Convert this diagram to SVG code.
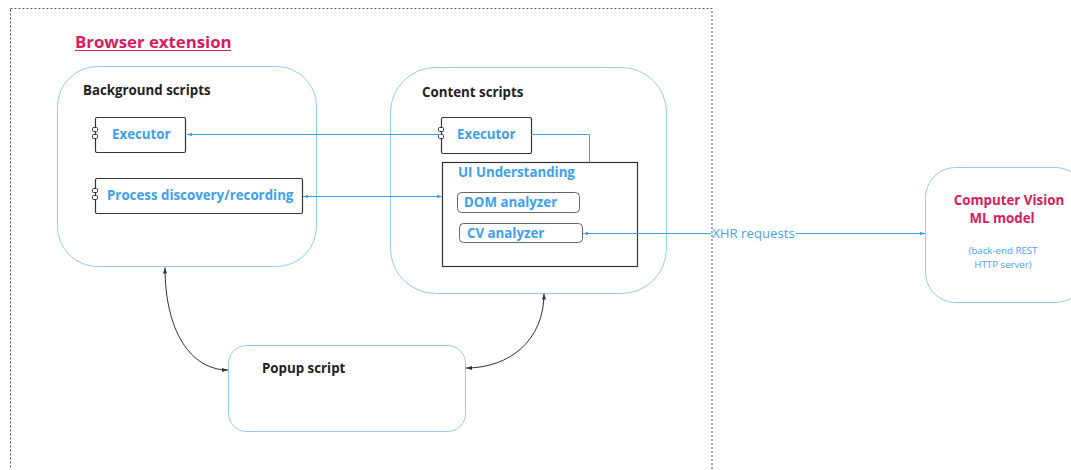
<svg xmlns="http://www.w3.org/2000/svg" width="1071" height="470" viewBox="0 0 1071 470">
<defs>
<style>
.frame{fill:none;stroke:#555;stroke-width:1;stroke-dasharray:2 2}
.soft{fill:#fff;stroke:#90cbf7;stroke-width:1}
.comp{fill:#fff;stroke:#333;stroke-width:1.2}
.pill{fill:#fff;stroke:#666;stroke-width:1}
.port{fill:#fff;stroke:#333;stroke-width:1}
.title{font-family:"Open Sans","Noto Sans",sans-serif;font-weight:bold;font-size:13.3px;fill:#222}
.blue{font-family:"Open Sans","Noto Sans",sans-serif;font-weight:bold;font-size:13.3px;fill:#3d9ff0}
.red{font-family:"Open Sans","Noto Sans",sans-serif;font-weight:bold;font-size:13.3px;fill:#d81b60}
.small{font-family:"Open Sans","Noto Sans",sans-serif;font-size:9.7px;fill:#4aa3ef}
.bl{fill:none;stroke:#3d9ff0;stroke-width:1}
.dk{fill:none;stroke:#333;stroke-width:1}
</style>
<marker id="ab" viewBox="0 0 6 6" refX="6" refY="3" markerWidth="5" markerHeight="5" orient="auto-start-reverse" markerUnits="userSpaceOnUse"><path d="M0,1 L6,3 L0,5 z" fill="#3d9ff0"/></marker>
<marker id="ad" viewBox="0 0 6 6" refX="6" refY="3" markerWidth="6" markerHeight="6" orient="auto-start-reverse" markerUnits="userSpaceOnUse"><path d="M0,1 L6,3 L0,5 z" fill="#333"/></marker>
</defs>
<rect x="0" y="0" width="1071" height="470" fill="#fff"/>
<rect class="frame" x="10.5" y="8.5" width="701.5" height="480"/>
<g id="title">
<text x="75" y="48" font-family="'Open Sans','Noto Sans',sans-serif" font-weight="bold" font-size="16.8" fill="#d81b60">Browser extension</text>
<line x1="75" y1="50.5" x2="231" y2="50.5" stroke="#d81b60" stroke-width="1.2"/>
</g>
<g id="background">
<rect class="soft" x="57.5" y="66.5" width="259" height="200" rx="40"/>
<text class="title" x="83" y="95">Background scripts</text>
</g>
<g id="bg-executor">
<rect class="comp" x="95.5" y="117.5" width="90" height="35" rx="1.5"/>
<rect class="port" x="92.5" y="127.5" width="5" height="4" rx="1"/>
<rect class="port" x="92.5" y="134.5" width="5" height="4" rx="1"/>
<text class="blue" x="112" y="139">Executor</text>
</g>
<g id="bg-process">
<rect class="comp" x="95.5" y="178.5" width="207" height="35" rx="1.5"/>
<rect class="port" x="92.5" y="188.5" width="5" height="4" rx="1"/>
<rect class="port" x="92.5" y="195.5" width="5" height="4" rx="1"/>
<text class="blue" x="107" y="200">Process discovery/recording</text>
</g>
<g id="content">
<rect class="soft" x="390.5" y="67.5" width="276" height="226" rx="45"/>
<text class="title" x="422" y="97">Content scripts</text>
</g>
<g id="ct-executor">
<rect class="comp" x="441.5" y="117.5" width="90" height="36" rx="1.5"/>
<rect class="port" x="438.5" y="127.5" width="5" height="4" rx="1"/>
<rect class="port" x="438.5" y="134.5" width="5" height="4" rx="1"/>
<text class="blue" x="457" y="139">Executor</text>
</g>
<g id="ui-understanding">
<rect class="comp" x="442.5" y="162.5" width="195" height="104"/>
<text class="blue" x="458" y="177">UI Understanding</text>
</g>
<g id="dom-analyzer">
<rect class="pill" x="457.5" y="192.5" width="122" height="20" rx="4"/>
<text class="blue" x="464" y="207">DOM analyzer</text>
</g>
<g id="cv-analyzer">
<rect class="pill" x="459.5" y="223.5" width="123" height="19" rx="4"/>
<text class="blue" x="467" y="238">CV analyzer</text>
</g>
<g id="popup">
<rect class="soft" x="228.5" y="345.5" width="237" height="86" rx="18"/>
<text class="title" x="262" y="373">Popup script</text>
</g>
<g id="cv-model">
<rect class="soft" x="925.5" y="167.5" width="160" height="135" rx="30"/>
<text class="red" x="1009" y="205" text-anchor="middle">Computer Vision</text>
<text class="red" x="1002" y="223" text-anchor="middle">ML model</text>
<text class="small" x="1003" y="254" text-anchor="middle">(back-end REST</text>
<text class="small" x="1003" y="268" text-anchor="middle">HTTP server)</text>
</g>
<g id="connectors">
<path class="bl" d="M441,134.5 H187" marker-end="url(#ab)"/>
<path class="bl" d="M531,134.5 H589.5 V162"/>
<path class="bl" d="M303,196.5 H442" marker-start="url(#ab)" marker-end="url(#ab)"/>
<path class="bl" d="M583,233.5 H711" marker-start="url(#ab)"/>
<path class="bl" d="M796,233.5 H925" marker-end="url(#ab)"/>
<text x="753.5" y="238" text-anchor="middle" font-family="'Open Sans','Noto Sans',sans-serif" font-size="13.2" fill="#4aa3ef">XHR requests</text>
<path class="dk" d="M165,267.5 C165,330 190,370 228,370" marker-start="url(#ad)" marker-end="url(#ad)"/>
<path class="dk" d="M544,293.5 C544,340 510,368 466,368" marker-start="url(#ad)" marker-end="url(#ad)"/>
</g>
</svg>
